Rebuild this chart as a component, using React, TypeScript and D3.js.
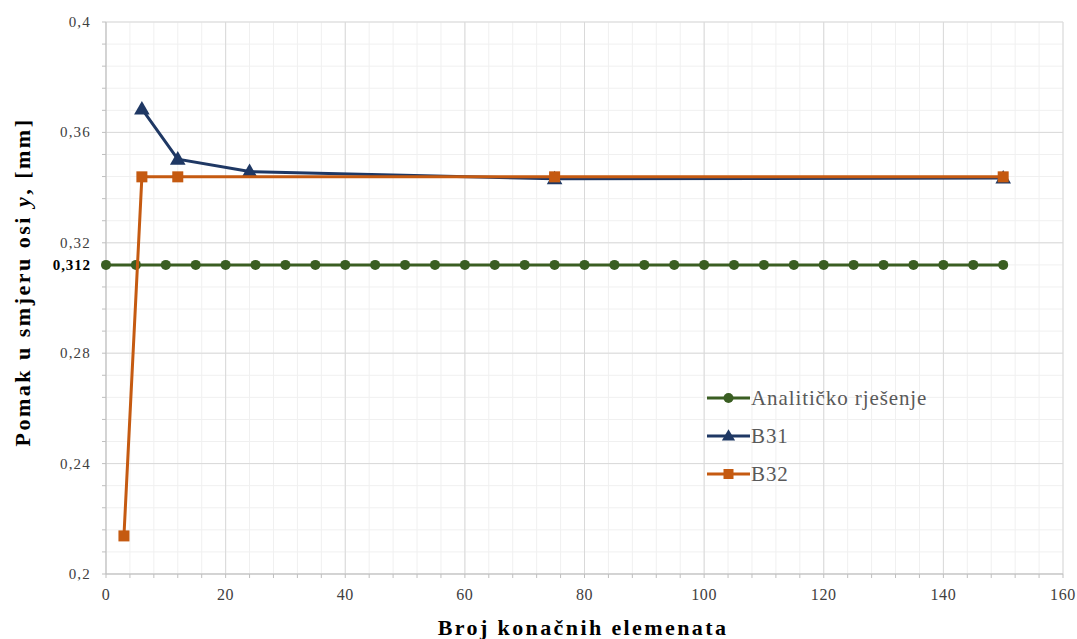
import React from "react";
import * as d3 from "d3";

const analyticX = [0, 5, 10, 15, 20, 25, 30, 35, 40, 45, 50, 55, 60, 65, 70, 75, 80, 85, 90, 95, 100, 105, 110, 115, 120, 125, 130, 135, 140, 145, 150];
const analyticY = [0.312, 0.312, 0.312, 0.312, 0.312, 0.312, 0.312, 0.312, 0.312, 0.312, 0.312, 0.312, 0.312, 0.312, 0.312, 0.312, 0.312, 0.312, 0.312, 0.312, 0.312, 0.312, 0.312, 0.312, 0.312, 0.312, 0.312, 0.312, 0.312, 0.312, 0.312];
const b31X = [6, 12, 24, 75, 150];
const b31Y = [0.3685, 0.3503, 0.3458, 0.3432, 0.3435];
const b32X = [3, 6, 12, 75, 150];
const b32Y = [0.2138, 0.3439, 0.3439, 0.3439, 0.3439];
const xTicks = [0, 20, 40, 60, 80, 100, 120, 140, 160];
const yTicks = [0.2, 0.24, 0.28, 0.32, 0.36, 0.4];
const legendLabels = ["Analitičko rješenje", "B31", "B32"];

const W = 1077, H = 639;
const L = 106, R = 1063, T = 22, B = 574;

export default function App() {
  const x = d3.scaleLinear().domain([0, 160]).range([L, R]);
  const y = d3.scaleLinear().domain([0.2, 0.4]).range([B, T]);
  const minorX = d3.range(0, 160.001, 4);
  const minorY = d3.range(0, 26).map((i) => 0.2 + i * 0.008);
  const line = d3.line<[number, number]>().x((d) => x(d[0])).y((d) => y(d[1]));
  const green = "#3a5e22";
  const blue = "#1f3864";
  const orange = "#c55a11";
  const fmt = (v: number) => String(+v.toFixed(2)).replace(".", ",");
  const tri = (cx: number, cy: number, s: number) =>
    `M${cx},${cy - s * 0.62} L${cx + s * 0.6},${cy + s * 0.42} L${cx - s * 0.6},${cy + s * 0.42} Z`;
  const serif = "Liberation Serif, DejaVu Serif, serif";
  const aPts = analyticX.map((v, i) => [v, analyticY[i]] as [number, number]);
  const b31Pts = b31X.map((v, i) => [v, b31Y[i]] as [number, number]);
  const b32Pts = b32X.map((v, i) => [v, b32Y[i]] as [number, number]);
  const legY = [398, 436, 474];
  return (
    <svg width={W} height={H} style={{ display: "block", position: "absolute", left: 0, top: 0, fontFamily: serif }}>
      <rect width={W} height={H} fill="#fff" />
      {minorX.map((v) => (
        <line key={"mx" + v} x1={x(v)} x2={x(v)} y1={T} y2={B} stroke="#f0f0f0" strokeWidth={1} />
      ))}
      {minorY.map((v, i) => (
        <line key={"my" + i} x1={L} x2={R} y1={y(v)} y2={y(v)} stroke="#f0f0f0" strokeWidth={1} />
      ))}
      {xTicks.map((v) => (
        <line key={"gx" + v} x1={x(v)} x2={x(v)} y1={T} y2={B} stroke="#d9d9d9" strokeWidth={1} />
      ))}
      {yTicks.map((v) => (
        <line key={"gy" + v} x1={L} x2={R} y1={y(v)} y2={y(v)} stroke="#d9d9d9" strokeWidth={1} />
      ))}
      <line x1={L} x2={L} y1={T} y2={B} stroke="#bfbfbf" />
      <line x1={L} x2={R} y1={B} y2={B} stroke="#bfbfbf" />
      {minorX.map((v) => (
        <line key={"tx" + v} x1={x(v)} x2={x(v)} y1={B} y2={B + 4} stroke="#bfbfbf" />
      ))}
      {minorY.map((v, i) => (
        <line key={"ty" + i} x1={L - 4} x2={L} y1={y(v)} y2={y(v)} stroke="#bfbfbf" />
      ))}
      {xTicks.map((v) => (
        <text key={"xl" + v} x={x(v)} y={B + 26} textAnchor="middle" fontFamily={serif} fontSize={16} fill="#404040" letterSpacing={0.6}>
          {v}
        </text>
      ))}
      {yTicks.map((v) => (
        <text key={"yl" + v} x={L - 15} y={y(v) + 5} textAnchor="end" fontFamily={serif} fontSize={15} fill="#404040" letterSpacing={1.2}>
          {fmt(v)}
        </text>
      ))}
      <text x={L - 15} y={y(0.312) + 5} textAnchor="end" fontFamily={serif} fontSize={15} fontWeight="bold" fill="#000" letterSpacing={0.9}>
        0,312
      </text>
      <text
        transform={`translate(30,282) rotate(-90)`}
        textAnchor="middle"
        fontFamily={serif}
        fontSize={22}
        fontWeight="bold"
        fill="#000"
        letterSpacing={2.5}
      >
        Pomak u smjeru osi <tspan fontStyle="italic">y</tspan>, [mm]
      </text>
      <text x={583} y={635} textAnchor="middle" fontFamily={serif} fontSize={22} fontWeight="bold" fill="#000" letterSpacing={2.4}>
        Broj konačnih elemenata
      </text>
      <path d={line(aPts) || ""} fill="none" stroke={green} strokeWidth={3} />
      {aPts.map((p, i) => (
        <circle key={"ac" + i} cx={x(p[0])} cy={y(p[1])} r={5} fill={green} />
      ))}
      <path d={line(b31Pts) || ""} fill="none" stroke={blue} strokeWidth={3} />
      {b31Pts.map((p, i) => (
        <path key={"bt" + i} d={tri(x(p[0]), y(p[1]), 13)} fill={blue} />
      ))}
      <path d={line(b32Pts) || ""} fill="none" stroke={orange} strokeWidth={3} />
      {b32Pts.map((p, i) => (
        <rect key={"or" + i} x={x(p[0]) - 5.5} y={y(p[1]) - 5.5} width={11} height={11} fill={orange} />
      ))}
      {legendLabels.map((lab, i) => {
        const c = [green, blue, orange][i];
        const cy = legY[i];
        return (
          <g key={"lg" + i}>
            <line x1={707} x2={750} y1={cy} y2={cy} stroke={c} strokeWidth={3} />
            {i === 0 && <circle cx={728.5} cy={cy} r={5} fill={c} />}
            {i === 1 && <path d={tri(728.5, cy, 11)} fill={c} />}
            {i === 2 && <rect x={723.5} y={cy - 5} width={10} height={10} fill={c} />}
            <text x={751} y={cy + 7} fontFamily={serif} fontSize={21} fill="#595959" letterSpacing={0.9}>
              {lab}
            </text>
          </g>
        );
      })}
    </svg>
  );
}
